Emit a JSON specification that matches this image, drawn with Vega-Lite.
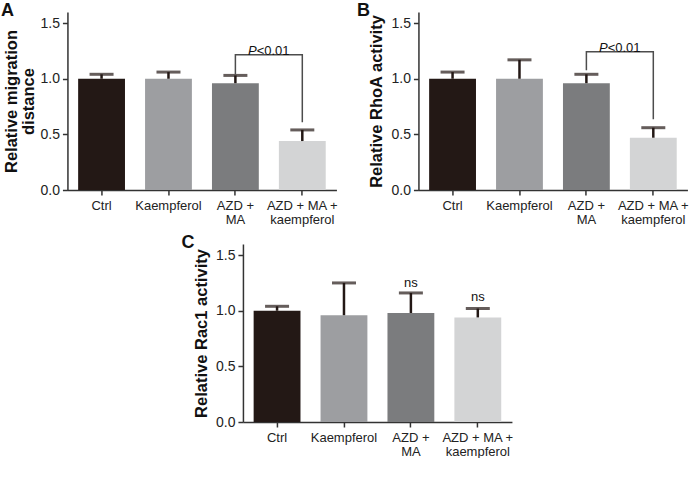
{
  "$schema": "https://vega.github.io/schema/vega-lite/v6.json",
  "padding": {"left": 0, "top": 2, "right": 0, "bottom": 0},
  "background": "white",
  "config": {
    "font": "Liberation Sans",
    "view": {"stroke": null},
    "scale": {"continuousPadding": 0},
    "axis": {
      "domainColor": "#333333", "domainWidth": 1.5, "tickColor": "#333333", "tickWidth": 1.5, "tickSize": 5,
      "labelColor": "#222222", "grid": false,
      "titleColor": "#111111", "titleFontWeight": "bold", "titleFontSize": 16.5, "titleLineHeight": 17
    },
    "axisX": {"labelAngle": 0, "labelFontSize": 13, "labelPadding": 4, "labelLineHeight": 14},
    "axisY": {"labelFontSize": 14, "labelPadding": 3, "titlePadding": 6},
    "title": {"fontSize": 18, "fontWeight": "bold", "color": "#111111", "anchor": "start", "frame": "bounds"}
  },
  "datasets": {
    "bars": [
      {"panel": "A", "group": "Ctrl", "mean": 1.0, "upper": 1.04},
      {"panel": "A", "group": "Kaempferol", "mean": 1.0, "upper": 1.06},
      {"panel": "A", "group": "AZD + MA", "mean": 0.96, "upper": 1.03},
      {"panel": "A", "group": "AZD + MA + kaempferol", "mean": 0.44, "upper": 0.54},
      {"panel": "B", "group": "Ctrl", "mean": 1.0, "upper": 1.06},
      {"panel": "B", "group": "Kaempferol", "mean": 1.0, "upper": 1.17},
      {"panel": "B", "group": "AZD + MA", "mean": 0.96, "upper": 1.04},
      {"panel": "B", "group": "AZD + MA + kaempferol", "mean": 0.47, "upper": 0.56},
      {"panel": "C", "group": "Ctrl", "mean": 1.0, "upper": 1.04},
      {"panel": "C", "group": "Kaempferol", "mean": 0.96, "upper": 1.25},
      {"panel": "C", "group": "AZD + MA", "mean": 0.98, "upper": 1.16},
      {"panel": "C", "group": "AZD + MA + kaempferol", "mean": 0.94, "upper": 1.02}
    ],
    "brackets": [
      {"panel": "A", "seq": 1, "group": "AZD + MA", "v": 1.04},
      {"panel": "A", "seq": 2, "group": "AZD + MA", "v": 1.216},
      {"panel": "A", "seq": 3, "group": "AZD + MA + kaempferol", "v": 1.216},
      {"panel": "A", "seq": 4, "group": "AZD + MA + kaempferol", "v": 0.61},
      {"panel": "B", "seq": 1, "group": "AZD + MA", "v": 1.076},
      {"panel": "B", "seq": 2, "group": "AZD + MA", "v": 1.243},
      {"panel": "B", "seq": 3, "group": "AZD + MA + kaempferol", "v": 1.243},
      {"panel": "B", "seq": 4, "group": "AZD + MA + kaempferol", "v": 0.636}
    ],
    "pvals": [
      {"panel": "A", "group": "AZD + MA", "v": 1.25, "p": "P", "rest": "<0.01"},
      {"panel": "B", "group": "AZD + MA", "v": 1.275, "p": "P", "rest": "<0.01"}
    ],
    "ns": [
      {"panel": "C", "group": "AZD + MA", "v": 1.217, "label": "ns"},
      {"panel": "C", "group": "AZD + MA + kaempferol", "v": 1.086, "label": "ns"}
    ]
  },
  "vconcat": [
    {
      "hconcat": [
        {
          "width": 269, "height": 178,
          "title": {"text": "A", "offset": -8, "dx": -3},
          "layer": [
            {"data": {"name": "bars"}, "transform": [{"filter": "datum.panel == 'A'"}],
             "mark": {"type": "bar"},
             "encoding": {
               "x": {"field": "group", "type": "nominal", "sort": ["Ctrl", "Kaempferol", "AZD + MA", "AZD + MA + kaempferol"], "title": null,
                     "scale": {"paddingInner": 0.3, "paddingOuter": 0.16},
                     "axis": {"labelExpr": "datum.label == 'AZD + MA' ? ['AZD +', 'MA'] : datum.label == 'AZD + MA + kaempferol' ? ['AZD + MA +', 'kaempferol'] : datum.label"}},
               "y": {"field": "mean", "type": "quantitative", "title": ["Relative migration", "distance"], "scale": {"domain": [0, 1.5], "padding": 0}, "axis": {"values": [0, 0.5, 1, 1.5], "format": ".1f", "titlePadding": 3}},
               "color": {"field": "group", "type": "nominal", "legend": null,
                         "scale": {"domain": ["Ctrl", "Kaempferol", "AZD + MA", "AZD + MA + kaempferol"], "range": ["#231815", "#9d9ea1", "#7b7c7e", "#d3d4d5"]}}
             }},
            {"data": {"name": "bars"}, "transform": [{"filter": "datum.panel == 'A'"}],
             "mark": {"type": "rule", "strokeWidth": 2.5, "color": "#231815"},
             "encoding": {"x": {"field": "group", "type": "nominal", "sort": ["Ctrl", "Kaempferol", "AZD + MA", "AZD + MA + kaempferol"]},
                          "y": {"field": "mean", "type": "quantitative", "title": ["Relative migration", "distance"]}, "y2": {"field": "upper"}}},
            {"data": {"name": "bars"}, "transform": [{"filter": "datum.panel == 'A'"}],
             "mark": {"type": "tick", "thickness": 3, "size": 24, "color": "#231815"},
             "encoding": {"x": {"field": "group", "type": "nominal", "sort": ["Ctrl", "Kaempferol", "AZD + MA", "AZD + MA + kaempferol"]},
                          "y": {"field": "upper", "type": "quantitative", "title": ["Relative migration", "distance"]}}},
            {"data": {"name": "brackets"}, "transform": [{"filter": "datum.panel == 'A'"}],
             "mark": {"type": "line", "color": "#4d4d4d", "strokeWidth": 1.5},
             "encoding": {"x": {"field": "group", "type": "nominal", "sort": ["Ctrl", "Kaempferol", "AZD + MA", "AZD + MA + kaempferol"]},
                          "y": {"field": "v", "type": "quantitative", "title": ["Relative migration", "distance"]}, "order": {"field": "seq"}}},
            {"data": {"name": "pvals"}, "transform": [{"filter": "datum.panel == 'A'"}],
             "mark": {"type": "text", "fontSize": 13, "fontStyle": "italic", "align": "right", "dx": -12, "color": "#111111"},
             "encoding": {"x": {"field": "group", "type": "nominal", "sort": ["Ctrl", "Kaempferol", "AZD + MA", "AZD + MA + kaempferol"], "bandPosition": 1.21},
                          "y": {"field": "v", "type": "quantitative", "title": ["Relative migration", "distance"]}, "text": {"field": "p"}}},
            {"data": {"name": "pvals"}, "transform": [{"filter": "datum.panel == 'A'"}],
             "mark": {"type": "text", "fontSize": 13, "align": "left", "dx": -12, "color": "#111111"},
             "encoding": {"x": {"field": "group", "type": "nominal", "sort": ["Ctrl", "Kaempferol", "AZD + MA", "AZD + MA + kaempferol"], "bandPosition": 1.21},
                          "y": {"field": "v", "type": "quantitative", "title": ["Relative migration", "distance"]}, "text": {"field": "rest"}}}
          ]
        },
        {
          "width": 269, "height": 178,
          "title": {"text": "B", "offset": -8, "dx": -12},
          "layer": [
            {"data": {"name": "bars"}, "transform": [{"filter": "datum.panel == 'B'"}],
             "mark": {"type": "bar"},
             "encoding": {
               "x": {"field": "group", "type": "nominal", "sort": ["Ctrl", "Kaempferol", "AZD + MA", "AZD + MA + kaempferol"], "title": null,
                     "scale": {"paddingInner": 0.3, "paddingOuter": 0.16},
                     "axis": {"labelExpr": "datum.label == 'AZD + MA' ? ['AZD +', 'MA'] : datum.label == 'AZD + MA + kaempferol' ? ['AZD + MA +', 'kaempferol'] : datum.label"}},
               "y": {"field": "mean", "type": "quantitative", "title": "Relative RhoA activity", "scale": {"domain": [0, 1.5], "padding": 0}, "axis": {"values": [0, 0.5, 1, 1.5], "format": ".1f"}},
               "color": {"field": "group", "type": "nominal", "legend": null,
                         "scale": {"domain": ["Ctrl", "Kaempferol", "AZD + MA", "AZD + MA + kaempferol"], "range": ["#231815", "#9d9ea1", "#7b7c7e", "#d3d4d5"]}}
             }},
            {"data": {"name": "bars"}, "transform": [{"filter": "datum.panel == 'B'"}],
             "mark": {"type": "rule", "strokeWidth": 2.5, "color": "#231815"},
             "encoding": {"x": {"field": "group", "type": "nominal", "sort": ["Ctrl", "Kaempferol", "AZD + MA", "AZD + MA + kaempferol"]},
                          "y": {"field": "mean", "type": "quantitative", "title": "Relative RhoA activity"}, "y2": {"field": "upper"}}},
            {"data": {"name": "bars"}, "transform": [{"filter": "datum.panel == 'B'"}],
             "mark": {"type": "tick", "thickness": 3, "size": 24, "color": "#231815"},
             "encoding": {"x": {"field": "group", "type": "nominal", "sort": ["Ctrl", "Kaempferol", "AZD + MA", "AZD + MA + kaempferol"]},
                          "y": {"field": "upper", "type": "quantitative", "title": "Relative RhoA activity"}}},
            {"data": {"name": "brackets"}, "transform": [{"filter": "datum.panel == 'B'"}],
             "mark": {"type": "line", "color": "#4d4d4d", "strokeWidth": 1.5},
             "encoding": {"x": {"field": "group", "type": "nominal", "sort": ["Ctrl", "Kaempferol", "AZD + MA", "AZD + MA + kaempferol"]},
                          "y": {"field": "v", "type": "quantitative", "title": "Relative RhoA activity"}, "order": {"field": "seq"}}},
            {"data": {"name": "pvals"}, "transform": [{"filter": "datum.panel == 'B'"}],
             "mark": {"type": "text", "fontSize": 13, "fontStyle": "italic", "align": "right", "dx": -12, "color": "#111111"},
             "encoding": {"x": {"field": "group", "type": "nominal", "sort": ["Ctrl", "Kaempferol", "AZD + MA", "AZD + MA + kaempferol"], "bandPosition": 1.21},
                          "y": {"field": "v", "type": "quantitative", "title": "Relative RhoA activity"}, "text": {"field": "p"}}},
            {"data": {"name": "pvals"}, "transform": [{"filter": "datum.panel == 'B'"}],
             "mark": {"type": "text", "fontSize": 13, "align": "left", "dx": -12, "color": "#111111"},
             "encoding": {"x": {"field": "group", "type": "nominal", "sort": ["Ctrl", "Kaempferol", "AZD + MA", "AZD + MA + kaempferol"], "bandPosition": 1.21},
                          "y": {"field": "v", "type": "quantitative", "title": "Relative RhoA activity"}, "text": {"field": "rest"}}}
          ]
        }
      ],
      "spacing": 18
    },
    {
      "width": 269, "height": 178,
      "title": {"text": "C", "offset": -8, "dx": -12},
      "layer": [
        {"data": {"name": "bars"}, "transform": [{"filter": "datum.panel == 'C'"}],
         "mark": {"type": "bar"},
         "encoding": {
           "x": {"field": "group", "type": "nominal", "sort": ["Ctrl", "Kaempferol", "AZD + MA", "AZD + MA + kaempferol"], "title": null,
                 "scale": {"paddingInner": 0.3, "paddingOuter": 0.16},
                 "axis": {"labelExpr": "datum.label == 'AZD + MA' ? ['AZD +', 'MA'] : datum.label == 'AZD + MA + kaempferol' ? ['AZD + MA +', 'kaempferol'] : datum.label"}},
           "y": {"field": "mean", "type": "quantitative", "title": "Relative Rac1 activity", "scale": {"domain": [0, 1.5], "padding": 0}, "axis": {"values": [0, 0.5, 1, 1.5], "format": ".1f"}},
           "color": {"field": "group", "type": "nominal", "legend": null,
                     "scale": {"domain": ["Ctrl", "Kaempferol", "AZD + MA", "AZD + MA + kaempferol"], "range": ["#231815", "#9d9ea1", "#7b7c7e", "#d3d4d5"]}}
         }},
        {"data": {"name": "bars"}, "transform": [{"filter": "datum.panel == 'C'"}],
         "mark": {"type": "rule", "strokeWidth": 2.5, "color": "#231815"},
         "encoding": {"x": {"field": "group", "type": "nominal", "sort": ["Ctrl", "Kaempferol", "AZD + MA", "AZD + MA + kaempferol"]},
                      "y": {"field": "mean", "type": "quantitative", "title": "Relative Rac1 activity"}, "y2": {"field": "upper"}}},
        {"data": {"name": "bars"}, "transform": [{"filter": "datum.panel == 'C'"}],
         "mark": {"type": "tick", "thickness": 3, "size": 24, "color": "#231815"},
         "encoding": {"x": {"field": "group", "type": "nominal", "sort": ["Ctrl", "Kaempferol", "AZD + MA", "AZD + MA + kaempferol"]},
                      "y": {"field": "upper", "type": "quantitative", "title": "Relative Rac1 activity"}}},
        {"data": {"name": "ns"},
         "mark": {"type": "text", "fontSize": 13, "baseline": "alphabetic", "color": "#111111"},
         "encoding": {"x": {"field": "group", "type": "nominal", "sort": ["Ctrl", "Kaempferol", "AZD + MA", "AZD + MA + kaempferol"]},
                      "y": {"field": "v", "type": "quantitative", "title": "Relative Rac1 activity"}, "text": {"field": "label"}}}
      ]
    }
  ],
  "spacing": 8,
  "center": true
}
